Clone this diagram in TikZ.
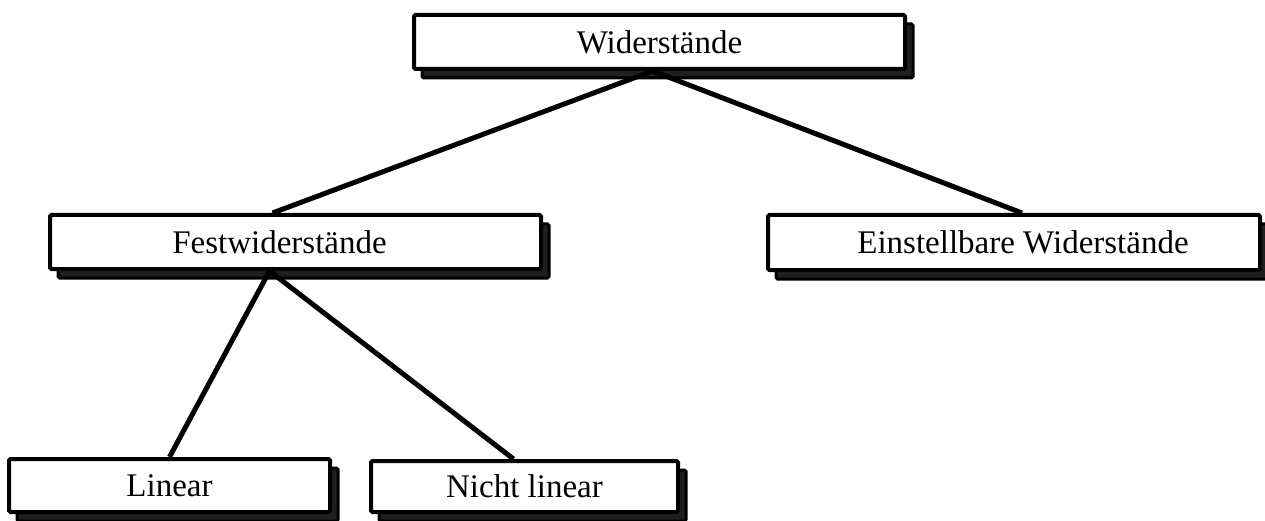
\documentclass[tikz,border=0pt]{standalone}
\usepackage{fontspec}
\setmainfont{Liberation Serif}
\usetikzlibrary{shadows}
\begin{document}
\begin{tikzpicture}[x=1pt,y=-1pt,
  box/.style={draw=black, fill=white, line width=4pt, rounded corners=1.5pt,
    inner sep=0pt, font=\fontsize{33}{36}\selectfont,
    general shadow={shadow xshift=8pt, shadow yshift=-9pt, fill=black!88, draw=black, line width=3pt}},
  link/.style={draw=black, line width=5pt}]
\useasboundingbox (0,0) rectangle (1265,521);
\node[box, minimum width=491pt, minimum height=54pt] (w) at (659.5,42) {Widerstände};
\node[box, minimum width=491pt, minimum height=54pt] (f) at (295.5,242) {\hspace*{-32pt}Festwiderstände};
\node[box, minimum width=492pt, minimum height=55pt] (e) at (1014,242.5) {\hspace*{18pt}Einstellbare Widerstände};
\node[box, minimum width=321pt, minimum height=53pt] (l) at (169.5,485.5) {Linear};
\node[box, minimum width=307pt, minimum height=51pt] (n) at (524.5,486.5) {Nicht linear};
\draw[link] ([xshift=-7pt]w.south) -- ([xshift=-23pt]f.north);
\draw[link] ([xshift=-7pt]w.south) -- ([xshift=8pt]e.north);
\draw[link] ([xshift=-26pt]f.south) -- ([xshift=0pt]l.north);
\draw[link] ([xshift=-26pt]f.south) -- ([xshift=-11pt]n.north);
\end{tikzpicture}
\end{document}
